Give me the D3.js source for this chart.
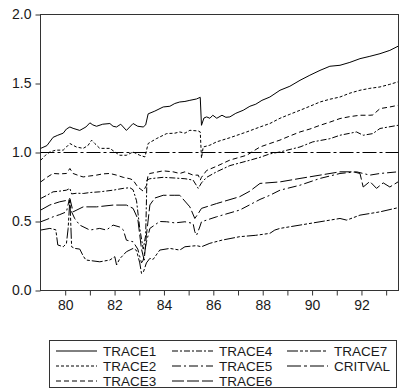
<!DOCTYPE html>
<html>
<head>
<meta charset="utf-8">
<script src="https://cdn.jsdelivr.net/npm/d3@7"></script>
<style>
  body { margin: 0; background: #fff; }
  svg text { font-family: Arial, "Liberation Sans", sans-serif; fill: #1a1a1a; }
</style>
</head>
<body>
<svg width="401" height="389"></svg>
<script>
// ---- data: [year, value] ----
var trace1 = [[1979.01,1.03],[1979.26,1.05],[1979.51,1.11],[1979.70,1.125],[1979.92,1.14],[1980.05,1.17],[1980.19,1.185],[1980.32,1.175],[1980.59,1.16],[1980.84,1.185],[1981.00,1.215],[1981.12,1.20],[1981.27,1.19],[1981.52,1.205],[1981.81,1.21],[1981.94,1.19],[1982.08,1.185],[1982.25,1.205],[1982.48,1.16],[1982.75,1.21],[1982.94,1.19],[1983.16,1.185],[1983.26,1.20],[1983.36,1.28],[1983.63,1.30],[1983.97,1.33],[1984.24,1.335],[1984.44,1.355],[1984.64,1.366],[1984.85,1.37],[1985.05,1.378],[1985.32,1.388],[1985.47,1.40],[1985.52,1.197],[1985.62,1.25],[1985.73,1.258],[1985.86,1.248],[1985.98,1.27],[1986.14,1.248],[1986.35,1.27],[1986.51,1.255],[1986.67,1.258],[1986.91,1.284],[1987.21,1.306],[1987.48,1.335],[1987.72,1.35],[1987.97,1.378],[1988.29,1.402],[1988.70,1.451],[1989.10,1.48],[1989.51,1.523],[1989.91,1.56],[1990.32,1.595],[1990.72,1.625],[1991.13,1.632],[1991.53,1.653],[1991.94,1.68],[1992.34,1.697],[1992.75,1.716],[1993.15,1.74],[1993.48,1.77]];

var trace2 = [[1979.01,0.944],[1979.20,0.98],[1979.38,1.004],[1979.62,1.017],[1979.92,1.017],[1980.05,1.04],[1980.19,1.065],[1980.45,1.04],[1980.73,1.03],[1980.92,1.05],[1981.07,1.089],[1981.20,1.065],[1981.40,1.03],[1981.81,1.03],[1982.01,1.004],[1982.21,0.98],[1982.48,0.98],[1982.75,1.004],[1983.02,0.98],[1983.23,0.968],[1983.36,1.065],[1983.69,1.10],[1984.11,1.137],[1984.44,1.14],[1984.64,1.149],[1984.85,1.14],[1985.05,1.161],[1985.39,1.156],[1985.47,1.149],[1985.52,0.96],[1985.59,1.04],[1985.86,1.053],[1986.13,1.077],[1986.67,1.107],[1987.35,1.149],[1987.89,1.185],[1988.29,1.21],[1988.70,1.248],[1989.10,1.277],[1989.51,1.306],[1989.91,1.335],[1990.32,1.366],[1990.72,1.386],[1991.13,1.402],[1991.53,1.43],[1991.94,1.451],[1992.34,1.465],[1992.75,1.475],[1993.15,1.494],[1993.48,1.512]];

var trace3 = [[1979.01,0.787],[1979.26,0.82],[1979.51,0.848],[1979.78,0.845],[1980.05,0.848],[1980.19,0.884],[1980.32,0.848],[1980.59,0.83],[1980.73,0.823],[1981.00,0.83],[1981.27,0.836],[1981.52,0.845],[1981.81,0.848],[1982.08,0.836],[1982.35,0.82],[1982.62,0.81],[1982.75,0.80],[1982.94,0.75],[1983.16,0.72],[1983.29,0.76],[1983.36,0.84],[1983.43,0.848],[1983.97,0.867],[1984.37,0.86],[1984.64,0.848],[1984.85,0.86],[1985.18,0.836],[1985.39,0.836],[1985.47,0.80],[1985.52,0.82],[1985.73,0.87],[1986.13,0.90],[1986.67,0.945],[1987.35,0.98],[1987.89,1.04],[1988.29,1.065],[1988.70,1.09],[1989.10,1.12],[1989.51,1.149],[1989.91,1.17],[1990.32,1.197],[1990.72,1.22],[1991.13,1.246],[1991.53,1.26],[1991.94,1.27],[1992.34,1.27],[1992.46,1.272],[1992.75,1.318],[1993.15,1.33],[1993.48,1.342]];

var trace4 = [[1979.01,0.667],[1979.26,0.69],[1979.51,0.715],[1979.78,0.72],[1980.05,0.727],[1980.19,0.74],[1980.26,0.70],[1980.47,0.705],[1980.73,0.703],[1981.00,0.71],[1981.40,0.715],[1981.94,0.727],[1982.35,0.74],[1982.62,0.745],[1982.75,0.73],[1982.89,0.65],[1983.02,0.45],[1983.16,0.30],[1983.26,0.40],[1983.31,0.80],[1983.43,0.81],[1983.97,0.82],[1984.44,0.815],[1984.85,0.81],[1985.18,0.80],[1985.39,0.74],[1985.52,0.78],[1985.73,0.82],[1986.13,0.86],[1986.67,0.905],[1987.48,0.944],[1987.89,0.965],[1988.29,0.99],[1988.70,1.004],[1989.51,1.04],[1990.03,1.077],[1990.72,1.10],[1991.13,1.125],[1991.80,1.149],[1992.07,1.125],[1992.46,1.137],[1992.75,1.174],[1993.48,1.197]];

var trace5 = [[1979.01,0.498],[1979.26,0.515],[1979.51,0.534],[1979.78,0.55],[1980.05,0.57],[1980.16,0.655],[1980.26,0.57],[1980.39,0.52],[1980.59,0.474],[1981.00,0.438],[1981.40,0.45],[1981.67,0.438],[1981.94,0.474],[1982.21,0.46],[1982.35,0.44],[1982.48,0.365],[1982.75,0.353],[1982.94,0.30],[1983.09,0.20],[1983.16,0.22],[1983.29,0.35],[1983.43,0.45],[1983.83,0.50],[1984.11,0.498],[1984.44,0.49],[1984.85,0.498],[1985.18,0.486],[1985.25,0.426],[1985.32,0.40],[1985.45,0.46],[1985.52,0.498],[1986.13,0.534],[1987.07,0.583],[1987.89,0.66],[1988.29,0.69],[1988.70,0.727],[1989.51,0.763],[1990.32,0.812],[1991.13,0.848],[1991.80,0.86],[1992.34,0.836],[1992.75,0.848],[1993.48,0.86]];

var trace6 = [[1979.01,0.583],[1979.38,0.62],[1979.78,0.643],[1980.12,0.655],[1980.19,0.667],[1980.32,0.57],[1980.73,0.606],[1981.27,0.606],[1981.94,0.619],[1982.48,0.619],[1982.75,0.595],[1982.94,0.52],[1983.09,0.30],[1983.20,0.22],[1983.29,0.40],[1983.43,0.62],[1983.63,0.67],[1983.97,0.69],[1984.44,0.69],[1984.64,0.69],[1985.05,0.606],[1985.25,0.522],[1985.39,0.558],[1985.52,0.595],[1986.13,0.63],[1987.07,0.68],[1987.48,0.72],[1987.89,0.776],[1988.70,0.787],[1989.51,0.812],[1990.32,0.836],[1991.13,0.86],[1991.67,0.86],[1991.94,0.848],[1992.07,0.75],[1992.34,0.79],[1992.61,0.74],[1992.88,0.78],[1993.15,0.75],[1993.48,0.787]];

var trace7 = [[1979.01,0.438],[1979.38,0.45],[1979.62,0.44],[1979.70,0.33],[1979.92,0.317],[1980.05,0.34],[1980.12,0.45],[1980.19,0.665],[1980.26,0.317],[1980.39,0.305],[1980.59,0.30],[1980.73,0.25],[1980.84,0.221],[1981.40,0.208],[1981.81,0.221],[1982.01,0.245],[1982.08,0.185],[1982.21,0.23],[1982.48,0.281],[1982.75,0.305],[1982.89,0.29],[1983.02,0.20],[1983.09,0.124],[1983.16,0.13],[1983.29,0.20],[1983.43,0.233],[1983.56,0.225],[1983.83,0.293],[1984.24,0.305],[1984.64,0.293],[1984.85,0.317],[1985.32,0.325],[1985.52,0.317],[1985.86,0.342],[1986.35,0.365],[1987.07,0.39],[1987.72,0.40],[1988.29,0.414],[1988.49,0.438],[1988.70,0.45],[1989.51,0.474],[1990.32,0.498],[1991.13,0.522],[1991.40,0.51],[1991.94,0.546],[1992.75,0.57],[1993.48,0.60]];

var critval = [[1979.0,1.0],[1993.5,1.0]];

var seriesNames = ['TRACE1','TRACE2','TRACE3','TRACE4','TRACE5','TRACE6','TRACE7','CRITVAL'];
var yTicks = [0, 0.5, 1.0, 1.5, 2.0];
var xTicks = [1980,1981,1982,1983,1984,1985,1986,1987,1988,1989,1990,1991,1992,1993];

// line patterns (EViews style)
var dashes = ['none', '3,2', '5,3', '6,2,2,2', '9,3,2,3', '12,3', '11,2,3,2,3,2', '14,3,3,3'];

// ---- scales and axes ----
var xScale = d3.scaleLinear().domain([1979, 1993.5]).range([40.5, 398.5]);
var yScale = d3.scaleLinear().domain([0, 2]).range([290.5, 14.5]);

var svg = d3.select('svg');

svg.append('g')
    .attr('transform', 'translate(40.5,0)')
    .call(d3.axisLeft(yScale).tickValues(yTicks).tickFormat(d3.format('.1f')).tickSize(5).tickPadding(4))
    .call(function(g){ g.select('.domain').remove(); })
    .call(function(g){ g.selectAll('line').attr('stroke', '#333'); })
    .call(function(g){ g.selectAll('text').style('font-size', '14px').attr('fill', '#1a1a1a'); });

svg.append('g')
    .attr('transform', 'translate(0,290.5)')
    .call(d3.axisBottom(xScale).tickValues(xTicks)
        .tickFormat(function(d){ return d % 2 === 0 ? String(d % 100) : ''; })
        .tickSize(5).tickPadding(5))
    .call(function(g){ g.select('.domain').remove(); })
    .call(function(g){ g.selectAll('line').attr('stroke', '#333'); })
    .call(function(g){ g.selectAll('text').style('font-size', '14px').attr('fill', '#1a1a1a'); });

// frame
svg.append('rect')
    .attr('x', xScale(1979)).attr('y', yScale(2))
    .attr('width', xScale(1993.5) - xScale(1979))
    .attr('height', yScale(0) - yScale(2))
    .attr('fill', 'none').attr('stroke', '#333').attr('stroke-width', 1);

// ---- lines ----
var line = d3.line()
    .x(function(d){ return xScale(d[0]); })
    .y(function(d){ return yScale(d[1]); });

var allSeries = [trace1, trace2, trace3, trace4, trace5, trace6, trace7, critval];

svg.append('g').selectAll('path')
    .data(allSeries)
    .enter()
    .append('path')
    .attr('d', line)
    .attr('fill', 'none')
    .attr('stroke', '#000')
    .attr('stroke-width', 1)
    .attr('stroke-dasharray', function(d, i){ return dashes[i]; });

// ---- legend ----
var legend = svg.append('g');
legend.append('rect')
    .attr('x', 49.5).attr('y', 340.5).attr('width', 347).attr('height', 47)
    .attr('fill', 'none').attr('stroke', '#333');

var colX = [56, 172, 287];
var rowY = [351, 366, 381];

var item = legend.selectAll('g.item')
    .data(seriesNames)
    .enter()
    .append('g')
    .attr('class', 'item')
    .attr('transform', function(d, i){
        return 'translate(' + colX[Math.floor(i / 3)] + ',' + rowY[i % 3] + ')';
    });

item.append('line')
    .attr('x1', 0).attr('x2', 41).attr('y1', 0).attr('y2', 0)
    .attr('stroke', '#000').attr('stroke-width', 1)
    .attr('stroke-dasharray', function(d, i){ return dashes[i]; });

item.append('text')
    .attr('x', 47).attr('y', 0).attr('dy', '0.36em')
    .style('font-size', '13.5px')
    .text(function(d){ return d; });
</script>
</body>
</html>
